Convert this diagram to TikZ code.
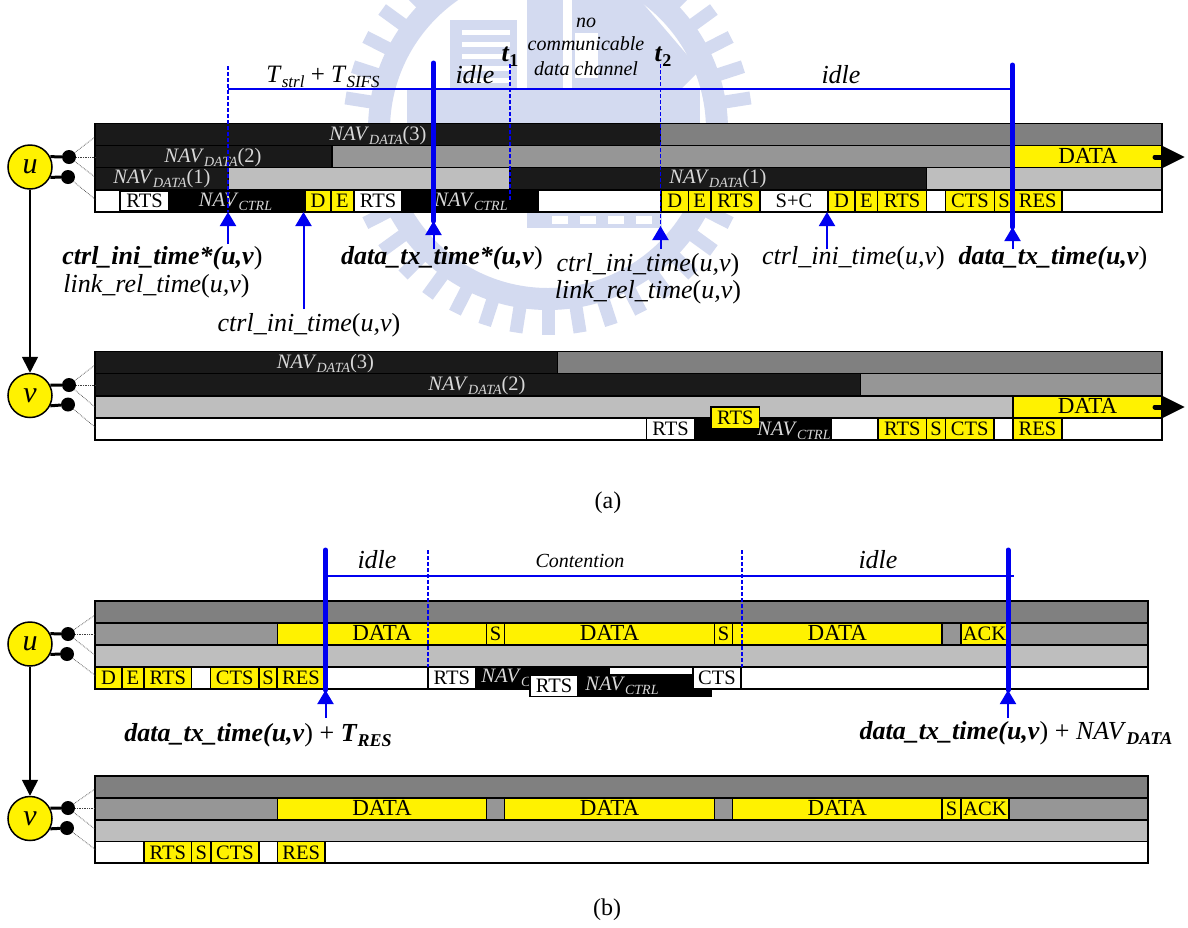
\documentclass[tikz,border=0pt]{standalone}
\usepackage{fontspec}
\setmainfont{Liberation Serif}
\usetikzlibrary{arrows.meta}
\definecolor{wmblue}{HTML}{D3DAF0}
\definecolor{gA}{HTML}{808080}
\definecolor{gB}{HTML}{969696}
\definecolor{gC}{HTML}{BEBEBE}
\definecolor{dk}{HTML}{1A1A1A}
\definecolor{navtxt}{HTML}{D8D8D8}
\definecolor{pblue}{HTML}{0000F0}
\newcommand\fsz[1]{\fontsize{#1}{#1}\selectfont}
\newcommand\sbsc[2]{\raisebox{-.22em}{\fsz{#1}#2}}
\newcommand\navd[1]{\textit{NAV}\sbsc{14}{\textit{DATA}}(#1)}
\newcommand\navc{\textit{NAV}\sbsc{14}{\textit{CTRL}}}
\newcommand\DT{\fsz{23}DATA}
\newcommand\bi[1]{\textbf{\textit{#1}}}
\newcount\sgn
\newcommand\sg[6]{\global\advance\sgn by 1
  \draw[#1] (#2,#3) rectangle (#4,#5) node[midway,seglab] (sg\the\sgn) {#6};}
\tikzset{
  x=1pt,y=-1pt,
  wm/.style={fill=wmblue,draw=none},
  bar/.style={draw=black,line width=1.4pt},
  sgk/.style={bar,fill=black},
  sgd/.style={bar,fill=dk},
  sga/.style={bar,fill=gA},
  sgb/.style={bar,fill=gB},
  sgc/.style={bar,fill=gC},
  sgw/.style={bar,fill=white},
  sgy/.style={bar,fill=yellow},
  sgn/.style={draw=none,fill=white},
  seglab/.style={font=\fsz{20.5},inner sep=0pt,text=black,text height=13.5pt,text depth=0pt},
  navlab/.style={font=\fsz{20.5},text=navtxt,inner sep=0pt,text height=14pt,text depth=4pt},
  lab/.style={font=\fsz{26},inner sep=0pt,text=black,text height=17.5pt,text depth=5pt},
  captxt/.style={font=\fsz{24},inner sep=0pt,text=black},
  thickb/.style={draw=pblue,line width=5pt,line cap=round},
  thinb/.style={draw=pblue,line width=1.6pt},
  dashb/.style={draw=pblue,line width=1.6pt,dash pattern=on 3.5pt off 2.5pt},
  uparrow/.style={color=pblue,line width=2pt,-{Triangle[length=14pt,width=16pt]}},
  stn/.style={circle,draw=black,fill=yellow,line width=1.5pt,minimum size=44pt,inner sep=0pt,font=\fsz{30}\itshape},
  dot/.style={circle,fill=black,minimum size=14pt,inner sep=0pt},
  stub/.style={draw=black,line width=3pt},
  feed/.style={draw=black!75,line width=.7pt,densely dotted},
  down/.style={draw=black,line width=1.6pt,-{Triangle[length=16pt,width=16pt]}},
  txarrow/.style={draw=black,line width=5pt,line cap=round,-{Triangle[length=23pt,width=21pt]}},
}
\begin{document}
\begin{tikzpicture}
\path[use as bounding box,fill=white] (0,0) rectangle (1188,927);

% watermark
\begin{scope}
\clip (0,0) rectangle (1188,927);
\fill[wm,even odd rule] (548,130) circle[radius=180] (548,130) circle[radius=158];
\foreach \a in {0,9,...,351} \fill[wm,shift={(548,130)},rotate=\a] (178,-6.5) rectangle (205,6.5);
\fill[wm] (407,90) rectangle (700,123);
\fill[wm] (450,20) rectangle (517,90);
\foreach \yy in {30,42,54,66,78} \fill[white] (462,\yy) rectangle (510,\yy+5);
\fill[wm] (527,0) rectangle (563,90);
\fill[wm] (572,0) -- (640,0) -- (700,70) -- (680,90) -- (572,90) -- cycle;
\fill[white] (575,33) rectangle (598,78);
\fill[wm] (527,212) rectangle (662,228);
\foreach \xx in {552,580,608,636} \fill[white] (\xx,216) rectangle (\xx+16,224);
\end{scope}

% ---------- panel (a), station u
\sg{sgd}{95}{123.5}{660.5}{145.5}{}
\sg{sga}{660.5}{123.5}{1162}{145.5}{}
\sg{sgd}{95}{145.5}{332}{167.5}{}
\sg{sgb}{332}{145.5}{1014}{167.5}{}
\sg{sgy}{1014}{145.5}{1162}{167.5}{\DT}
\sg{sgd}{95}{167.5}{228.5}{190}{}
\sg{sgc}{228.5}{167.5}{510}{190}{}
\sg{sgd}{510}{167.5}{926.5}{190}{}
\sg{sgc}{926.5}{167.5}{1162}{190}{}
\sg{sgw}{95}{190}{1162}{212}{}
\sg{sgk}{119.5}{190}{305}{212}{}
\sg{sgw}{120.5}{191}{168.5}{211}{RTS}
\sg{sgy}{305}{190.5}{331}{211.5}{D}
\sg{sgy}{331}{190.5}{354}{211.5}{E}
\sg{sgw}{354}{190.5}{402}{211.5}{RTS}
\sg{sgk}{402}{190}{538}{212}{}
\sg{sgy}{661}{190.5}{688.5}{211.5}{D}
\sg{sgy}{688.5}{190.5}{711}{211.5}{E}
\sg{sgy}{711}{190.5}{760}{211.5}{RTS}
\sg{sgn}{761}{191}{827}{211}{S+C}
\sg{sgy}{828}{190.5}{855}{211.5}{D}
\sg{sgy}{855}{190.5}{877.5}{211.5}{E}
\sg{sgy}{877.5}{190.5}{926.5}{211.5}{RTS}
\sg{sgy}{945.5}{190.5}{994.5}{211.5}{CTS}
\sg{sgy}{994.5}{190.5}{1013.5}{211.5}{S}
\sg{sgy}{1013.5}{190.5}{1062}{211.5}{RES}
\node[navlab] (n3a) at (378,135) {\navd{3}};
\node[navlab] (n2a) at (213,157) {\navd{2}};
\node[navlab] (n1a) at (162,178) {\navd{1}};
\node[navlab] (n1b) at (718,178) {\navd{1}};
\node[navlab] (c1a) at (235.5,201) {\navc};
\node[navlab] (c2a) at (471,201) {\navc};

% ---------- panel (a), station v
\sg{sgd}{95}{351.5}{557.5}{373.5}{}
\sg{sga}{557.5}{351.5}{1162}{373.5}{}
\sg{sgd}{95}{373.5}{860.5}{396}{}
\sg{sgb}{860.5}{373.5}{1162}{396}{}
\sg{sgc}{95}{396}{1013}{418}{}
\sg{sgy}{1013}{396}{1162}{418}{\DT}
\sg{sgw}{95}{418}{1162}{440}{}
\sg{sgw}{646.5}{418}{694.5}{440}{RTS}
\sg{sgk}{694.5}{418}{831}{440}{}
\sg{sgy}{711}{407}{759.5}{428.5}{RTS}
\sg{sgy}{878}{418}{926.5}{440}{RTS}
\sg{sgy}{926.5}{418}{945.5}{440}{S}
\sg{sgy}{945.5}{418}{994}{440}{CTS}
\sg{sgy}{1013}{418}{1062}{440}{RES}
\node[navlab] (n3v) at (325.5,363) {\navd{3}};
\node[navlab] (n2v) at (477,385) {\navd{2}};
\node[navlab] (c1v) at (794,430) {\navc};

% ---------- panel (b), station u
\sg{sga}{95}{601}{1148}{623}{}
\sg{sgb}{95}{623}{1148}{645}{}
\sg{sgy}{277.5}{623}{486.5}{645}{\DT}
\sg{sgy}{486.5}{623}{504.5}{645}{S}
\sg{sgy}{504.5}{623}{714.5}{645}{\DT}
\sg{sgy}{714.5}{623}{732.5}{645}{S}
\sg{sgy}{732.5}{623}{942}{645}{\DT}
\sg{sgy}{961}{623}{1008}{645}{ACK}
\sg{sgc}{95}{645}{1148}{667}{}
\sg{sgw}{95}{667}{1148}{689}{}
\sg{sgy}{95}{667}{122}{689}{D}
\sg{sgy}{122}{667}{144}{689}{E}
\sg{sgy}{144}{667}{191.5}{689}{RTS}
\sg{sgy}{210.5}{667}{259}{689}{CTS}
\sg{sgy}{259}{667}{277}{689}{S}
\sg{sgy}{277}{667}{325}{689}{RES}
\sg{sgw}{428}{667}{475.5}{689}{RTS}
\sg{sgk}{475.5}{667}{610}{689}{}
\sg{sgk}{578}{675}{711.5}{696.5}{}
\sg{sgk}{610}{667}{693}{675}{}
\sg{sgn}{610}{667.6}{693}{674}{}
\node[navlab] (c1u) at (506,677) {\textit{NAV}\sbsc{14}{\textit{C}}};
\sg{sgw}{530}{675}{578}{696.5}{RTS}
\node[navlab] (c2u) at (622,685) {\navc};
\sg{sgw}{693}{667}{741}{688.5}{CTS}

% ---------- panel (b), station v
\sg{sga}{95}{776}{1148}{798}{}
\sg{sgb}{95}{798}{1148}{820}{}
\sg{sgy}{277.5}{798}{486.5}{820}{\DT}
\sg{sgy}{504.5}{798}{714.5}{820}{\DT}
\sg{sgy}{732.5}{798}{942}{820}{\DT}
\sg{sgy}{942}{798}{961}{820}{S}
\sg{sgy}{961}{798}{1009}{820}{ACK}
\sg{sgc}{95}{820}{1148}{841.5}{}
\sg{sgw}{95}{841.5}{1148}{863}{}
\sg{sgy}{144}{841.5}{191.5}{863}{RTS}
\sg{sgy}{191.5}{841.5}{211}{863}{S}
\sg{sgy}{211}{841.5}{259}{863}{CTS}
\sg{sgy}{277.5}{841.5}{325}{863}{RES}

% ---------- stations
\node[stn] (ua) at (30,167) {u};
\node[stn] (va) at (30,395.5) {v};
\node[stn] (ub) at (30,644) {u};
\node[stn] (vb) at (30,818.5) {v};
\node[dot] (ua1) at (69,157) {};
\node[dot] (ua2) at (68,177) {};
\node[dot] (va1) at (69,385) {};
\node[dot] (va2) at (68,404.5) {};
\node[dot] (ub1) at (68,634) {};
\node[dot] (ub2) at (67,654) {};
\node[dot] (vb1) at (68,808) {};
\node[dot] (vb2) at (67,828) {};
\foreach \s in {ua,va,ub,vb}{
  \draw[stub] (\s.27) -- (\s1);
  \draw[stub] (\s.-27) -- (\s2);
}
\draw[down] (ua) -- (va);
\draw[down] (ub) -- (vb);
\coordinate (ua1t) at (95,137); \coordinate (ua1m) at (95,157); \coordinate (ua1b) at (95,177); \coordinate (ua2b) at (96,200);
\coordinate (va1t) at (95,365); \coordinate (va1m) at (95,385); \coordinate (va1b) at (95,407); \coordinate (va2b) at (96,428);
\coordinate (ub1t) at (95,615); \coordinate (ub1m) at (95,634); \coordinate (ub1b) at (95,655); \coordinate (ub2b) at (96,676);
\coordinate (vb1t) at (95,789); \coordinate (vb1m) at (95,808); \coordinate (vb1b) at (95,829); \coordinate (vb2b) at (96,850);
\foreach \s in {ua,va,ub,vb}{
  \draw[feed] (\s1) -- (\s1t);
  \draw[feed] (\s1) -- (\s1m);
  \draw[feed] (\s1) -- (\s1b);
  \draw[feed] (\s2) -- (\s2b);
}
% transmission arrows on the DATA rows
\coordinate (dua) at (1155,157); \coordinate (tua) at (1185,157);
\coordinate (dva) at (1155,407); \coordinate (tva) at (1185,407);
\draw[txarrow] (dua) -- (tua);
\draw[txarrow] (dva) -- (tva);

% ---------- blue time marks, panel (a)
\coordinate (p228t) at (228,66); \coordinate (p228m) at (228,212); \coordinate (p228b) at (228,244); \coordinate (h228) at (228,89); \coordinate (h1013) at (1013,89);
\draw[dashb] (p228t) -- (p228m);
\draw[uparrow] (p228b) -- (p228m);
\draw[thinb] (h228) -- (h1013);
\coordinate (p303t) at (303.5,212); \coordinate (p303b) at (303.5,309);
\draw[uparrow] (p303b) -- (p303t);
\coordinate (p433t) at (433.5,63); \coordinate (p433m) at (433.5,221); \coordinate (p433b) at (433.5,249);
\draw[thickb] (p433t) -- (p433m);
\draw[uparrow] (p433b) -- (p433m);
\coordinate (p510t) at (510,64); \coordinate (p510b) at (510,200);
\draw[dashb] (p510t) -- (p510b);
\coordinate (p660t) at (660.5,64); \coordinate (p660m) at (660.5,226); \coordinate (p660b) at (660.5,249);
\draw[dashb] (p660t) -- (p660m);
\draw[uparrow] (p660b) -- (p660m);
\coordinate (p827t) at (827,212); \coordinate (p827b) at (827,249);
\draw[uparrow] (p827b) -- (p827t);
\coordinate (p1013t) at (1012.5,65); \coordinate (p1013m) at (1012.5,227); \coordinate (p1013b) at (1012.5,249);
\draw[thickb] (p1013t) -- (p1013m);
\draw[uparrow] (p1013b) -- (p1013m);

% ---------- blue time marks, panel (b)
\coordinate (q325t) at (325.5,550); \coordinate (q325m) at (325.5,690); \coordinate (q325b) at (325.5,718);
\draw[thickb] (q325t) -- (q325m);
\draw[uparrow] (q325b) -- (q325m);
\coordinate (q1008t) at (1008,550); \coordinate (q1008m) at (1008,690); \coordinate (q1008b) at (1008,718);
\draw[thickb] (q1008t) -- (q1008m);
\draw[uparrow] (q1008b) -- (q1008m);
\coordinate (qhl) at (325.5,575.7); \coordinate (qhr) at (1014,575.7);
\draw[thinb] (qhl) -- (qhr);
\coordinate (q428t) at (428,550); \coordinate (q428b) at (428,667);
\draw[dashb] (q428t) -- (q428b);
\coordinate (q742t) at (742,550); \coordinate (q742b) at (742,667);
\draw[dashb] (q742t) -- (q742b);

% ---------- labels
\node[lab,font=\fsz{25}] (tctl) at (323,76) {\textit{T}\sbsc{17}{\textit{strl}} + \textit{T}\sbsc{17}{\textit{SIFS}}};
\node[lab] (idle1) at (475,77) {\textit{idle}};
\node[lab] (idle2) at (841,77) {\textit{idle}};
\node[lab] (idle3) at (377,562) {\textit{idle}};
\node[lab] (idle4) at (878,562) {\textit{idle}};
\node[lab,font=\fsz{20}] (cont) at (580,561) {\textit{Contention}};
\node[lab] (t1) at (510,55) {\bi{t}\sbsc{18}{\textbf{1}}};
\node[lab] (t2) at (663,55) {\bi{t}\sbsc{18}{\textbf{2}}};
\node[lab,font=\fsz{20}] (nc1) at (586,21) {\textit{no}};
\node[lab,font=\fsz{20}] (nc2) at (586,44) {\textit{communicable}};
\node[lab,font=\fsz{20}] (nc3) at (586,69) {\textit{data channel}};
\node[lab] (l1) at (162.5,258) {\bi{ctrl\_ini\_time*(u,v}\/)};
\node[lab] (l2) at (156.5,286) {\textit{link\_rel\_time}(\textit{u,v})};
\node[lab] (l3) at (309,325) {\textit{ctrl\_ini\_time}(\textit{u,v})};
\node[lab] (l4) at (442,258) {\bi{data\_tx\_time*(u,v}\/)};
\node[lab] (l5) at (648,265) {\textit{ctrl\_ini\_time}(\textit{u,v})};
\node[lab] (l6) at (648,292) {\textit{link\_rel\_time}(\textit{u,v})};
\node[lab] (l7) at (853.5,258) {\textit{ctrl\_ini\_time}(\textit{u,v})};
\node[lab] (l8) at (1053,258) {\bi{data\_tx\_time(u,v}\/)};
\node[lab] (l9) at (258,735) {\bi{data\_tx\_time(u,v}\/) + \bi{T}\sbsc{18}{\bi{RES}}};
\node[lab] (l10) at (1016,733) {\bi{data\_tx\_time(u,v}\/) + \textit{NAV}\sbsc{18}{\bi{DATA}}};
\node[captxt] (capa) at (608,503) {(a)};
\node[captxt] (capb) at (607,910) {(b)};
\end{tikzpicture}
\end{document}
